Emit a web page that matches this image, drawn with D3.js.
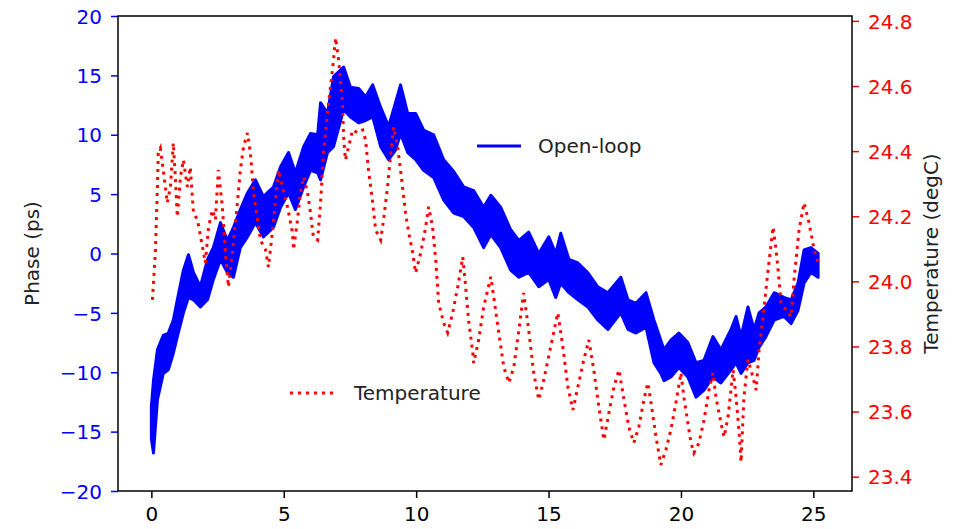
<!DOCTYPE html>
<html>
<head>
<meta charset="utf-8">
<script src="https://cdn.jsdelivr.net/npm/d3@7"></script>
<style>
  body { margin: 0; background: #fff; }
  svg { display: block; font-family: "DejaVu Sans", sans-serif; }
</style>
</head>
<body>
<div id="chart"></div>
<script>

// open-loop phase band (ps): time, upper and lower edge of the noisy trace
var phaseTime = [
  0.00, 0.08, 0.23, 0.45, 0.64, 0.83, 0.98, 1.21, 1.40, 1.59,
  1.85, 2.12, 2.34, 2.61, 2.87, 3.10, 3.36, 3.63, 3.93, 4.23,
  4.61, 4.88, 5.18, 5.44, 5.75, 6.01, 6.28, 6.39, 6.65, 6.88,
  7.26, 7.52, 7.83, 8.09, 8.36, 8.66, 8.96, 9.22, 9.41, 9.68,
  9.98, 10.28, 10.66, 11.04, 11.42, 11.80, 12.17, 12.55, 12.82, 13.19,
  13.57, 13.88, 14.25, 14.63, 15.01, 15.27, 15.46, 15.77, 16.11, 16.48,
  16.86, 17.24, 17.73, 18.00, 18.30, 18.68, 18.98, 19.24, 19.36, 19.62,
  19.92, 20.26, 20.57, 20.87, 21.21, 21.51, 21.89, 22.08, 22.27, 22.53,
  22.76, 22.95, 23.21, 23.52, 23.89, 24.16, 24.42, 24.65, 24.91, 25.18
];
var phaseHi = [
  -12.9, -10.7, -8.1, -6.9, -6.7, -5.6, -3.9, -1.4, -0.1, -1.6,
  -2.8, -0.5, 0.5, 2.6, 1.1, 2.2, 3.7, 5.1, 6.2, 4.8,
  5.6, 7.3, 8.5, 6.8, 9.0, 10.1, 10.0, 12.7, 11.8, 14.9,
  15.7, 14.0, 13.9, 13.2, 14.2, 12.3, 10.7, 12.7, 14.2, 11.8,
  11.8, 10.4, 10.0, 7.9, 6.9, 5.6, 5.3, 3.9, 4.9, 3.9,
  2.0, 1.1, 1.8, 0.0, 1.4, 0.0, 1.7, -0.5, -0.8, -1.6,
  -2.8, -3.3, -2.0, -3.9, -4.2, -3.3, -5.6, -7.3, -8.1, -7.3,
  -6.7, -7.5, -9.2, -9.0, -7.0, -8.1, -6.4, -5.3, -7.0, -4.5,
  -6.4, -5.0, -4.5, -3.3, -3.7, -3.9, -2.5, 0.3, 0.5, 0.0
];
var phaseLo = [
  -15.6, -16.8, -12.3, -10.1, -9.8, -8.4, -7.0, -5.0, -3.7, -3.9,
  -4.5, -3.9, -2.2, -0.5, -1.6, -2.0, 0.5, 1.4, 2.6, 1.4,
  2.2, 3.9, 5.1, 3.7, 5.6, 7.0, 6.8, 6.2, 8.5, 9.0,
  12.1, 11.5, 11.0, 11.2, 11.5, 9.0, 7.9, 8.7, 10.1, 8.5,
  7.9, 7.0, 6.4, 4.5, 3.4, 3.1, 2.2, 0.5, 1.6, 0.5,
  -1.4, -2.0, -1.6, -2.8, -2.2, -3.7, -2.5, -3.3, -3.9, -4.5,
  -5.6, -6.4, -5.0, -6.4, -6.7, -6.2, -9.2, -10.1, -10.7, -10.4,
  -9.6, -10.4, -12.1, -11.5, -10.4, -10.9, -9.8, -9.2, -10.1, -9.2,
  -9.0, -7.9, -7.0, -5.6, -5.3, -5.9, -4.8, -2.5, -1.6, -2.0
];

// temperature trace (degC)
var tempTime = [
  0.04, 0.15, 0.23, 0.26, 0.34, 0.45, 0.60, 0.72, 0.83, 0.91,
  0.98, 1.10, 1.21, 1.36, 1.47, 1.59, 1.74, 1.93, 2.04, 2.16,
  2.31, 2.42, 2.53, 2.68, 2.80, 2.91, 3.06, 3.25, 3.36, 3.48,
  3.63, 3.74, 3.86, 4.01, 4.12, 4.31, 4.42, 4.57, 4.69, 4.80,
  4.95, 5.14, 5.33, 5.37, 5.52, 5.63, 5.75, 5.90, 6.01, 6.12,
  6.28, 6.39, 6.50, 6.69, 6.84, 6.96, 7.07, 7.22, 7.26, 7.33,
  7.45, 7.60, 7.79, 7.98, 8.09, 8.20, 8.36, 8.47, 8.66, 8.77,
  8.92, 9.04, 9.15, 9.30, 9.41, 9.60, 9.72, 9.87, 9.98, 10.17,
  10.36, 10.47, 10.62, 10.74, 10.85, 11.04, 11.19, 11.38, 11.57, 11.76,
  11.87, 11.98, 12.14, 12.17, 12.36, 12.55, 12.82, 12.93, 13.12, 13.31,
  13.50, 13.69, 13.88, 14.06, 14.25, 14.44, 14.63, 14.82, 15.08, 15.35,
  15.54, 15.73, 15.92, 16.11, 16.33, 16.52, 16.71, 16.90, 17.09, 17.28,
  17.47, 17.66, 17.85, 18.03, 18.22, 18.41, 18.60, 18.75, 18.87, 19.06,
  19.24, 19.43, 19.62, 19.81, 20.00, 20.11, 20.26, 20.38, 20.49, 20.68,
  20.87, 21.06, 21.21, 21.32, 21.51, 21.63, 21.78, 21.97, 22.08, 22.19,
  22.27, 22.38, 22.53, 22.72, 22.84, 22.95, 23.10, 23.29, 23.48, 23.59,
  23.67, 23.78, 23.97, 24.16, 24.27, 24.46, 24.65, 24.84, 25.03, 25.18
];
var temperature = [
  23.943, 24.087, 24.290, 24.394, 24.409, 24.342, 24.241, 24.290, 24.425, 24.312,
  24.198, 24.321, 24.373, 24.290, 24.351, 24.210, 24.189, 24.106, 24.057, 24.167,
  24.219, 24.189, 24.342, 24.229, 24.087, 23.983, 24.087, 24.241, 24.342, 24.413,
  24.456, 24.394, 24.272, 24.189, 24.127, 24.097, 24.044, 24.149, 24.250, 24.342,
  24.290, 24.229, 24.149, 24.097, 24.189, 24.272, 24.321, 24.272, 24.210, 24.136,
  24.127, 24.241, 24.394, 24.548, 24.649, 24.748, 24.680, 24.548, 24.444, 24.373,
  24.413, 24.465, 24.456, 24.465, 24.434, 24.342, 24.241, 24.158, 24.127, 24.189,
  24.290, 24.394, 24.474, 24.413, 24.342, 24.210, 24.149, 24.087, 24.026, 24.087,
  24.167, 24.229, 24.167, 24.066, 23.934, 23.872, 23.842, 23.903, 23.983, 24.075,
  23.983, 23.881, 23.780, 23.749, 23.820, 23.921, 24.014, 23.952, 23.842, 23.737,
  23.688, 23.737, 23.851, 23.964, 23.851, 23.719, 23.636, 23.697, 23.799, 23.903,
  23.799, 23.676, 23.605, 23.676, 23.759, 23.820, 23.728, 23.614, 23.513, 23.596,
  23.676, 23.728, 23.636, 23.553, 23.504, 23.553, 23.636, 23.688, 23.627, 23.522,
  23.436, 23.482, 23.544, 23.627, 23.719, 23.645, 23.565, 23.504, 23.473, 23.504,
  23.574, 23.666, 23.719, 23.645, 23.565, 23.522, 23.583, 23.728, 23.645, 23.544,
  23.445, 23.645, 23.759, 23.706, 23.666, 23.789, 23.891, 24.035, 24.167, 24.097,
  24.035, 23.934, 23.912, 23.891, 24.004, 24.158, 24.241, 24.179, 24.097, 24.057
];

// tick labels
var xTicks = [0, 5, 10, 15, 20, 25];
var phaseTicks = [-20, -15, -10, -5, 0, 5, 10, 15, 20];
var tempTicks = [23.4, 23.6, 23.8, 24.0, 24.2, 24.4, 24.6, 24.8];

var attrs = {
  svgWidth: 973,
  svgHeight: 529,
  left: 118,
  right: 852,
  top: 16,
  bottom: 491,
  fontSize: 20
};

var svg = d3.select('#chart').append('svg')
  .attr('width', attrs.svgWidth)
  .attr('height', attrs.svgHeight);

svg.append('rect').attr('width', attrs.svgWidth).attr('height', attrs.svgHeight).attr('fill', '#fff');

// scales (matplotlib style 5% margin on x)
var x = d3.scaleLinear().domain([-1.26, 26.46]).range([attrs.left, attrs.right]);
var yPhase = d3.scaleLinear().domain([-20, 20]).range([attrs.bottom, attrs.top]);
var yTemp = d3.scaleLinear().domain([23.356, 24.815]).range([attrs.bottom, attrs.top]);

var minus = function (d) { return d < 0 ? '\u2212' + Math.abs(d) : '' + d; };

svg.append('clipPath').attr('id', 'plot-clip')
  .append('rect')
  .attr('x', attrs.left).attr('y', attrs.top)
  .attr('width', attrs.right - attrs.left).attr('height', attrs.bottom - attrs.top);

var plot = svg.append('g').attr('clip-path', 'url(#plot-clip)');

// blue open-loop band
var band = phaseTime.map(function (t, i) { return { t: t, hi: phaseHi[i], lo: phaseLo[i] }; });
plot.append('path')
  .datum(band)
  .attr('fill', '#0000ff')
  .attr('stroke', '#0000ff')
  .attr('stroke-width', 3)
  .attr('stroke-linejoin', 'round')
  .attr('d', d3.area()
    .x(function (d) { return x(d.t); })
    .y0(function (d) { return yPhase(d.lo); })
    .y1(function (d) { return yPhase(d.hi); }));

// red dotted temperature (twin axis, drawn on top)
var temp = tempTime.map(function (t, i) { return { t: t, v: temperature[i] }; });
plot.append('path')
  .datum(temp)
  .attr('fill', 'none')
  .attr('stroke', '#ff0000')
  .attr('stroke-width', 3)
  .attr('stroke-dasharray', '3,5')
  .attr('d', d3.line()
    .x(function (d) { return x(d.t); })
    .y(function (d) { return yTemp(d.v); }));

// axes
var xAxis = svg.append('g')
  .attr('transform', 'translate(0,' + attrs.bottom + ')')
  .call(d3.axisBottom(x).tickValues(xTicks).tickSize(7).tickPadding(8).tickFormat(minus));

var leftAxis = svg.append('g')
  .attr('transform', 'translate(' + attrs.left + ',0)')
  .call(d3.axisLeft(yPhase).tickValues(phaseTicks).tickSize(7).tickPadding(9).tickFormat(minus));

var rightAxis = svg.append('g')
  .attr('transform', 'translate(' + attrs.right + ',0)')
  .call(d3.axisRight(yTemp).tickValues(tempTicks).tickSize(7).tickPadding(9).tickFormat(d3.format('.1f')));

[xAxis, leftAxis, rightAxis].forEach(function (a) {
  a.select('.domain').remove();
  a.selectAll('text').attr('font-size', attrs.fontSize).attr('font-family', '"DejaVu Sans", sans-serif');
  a.selectAll('line').attr('stroke-width', 1.5);
});
xAxis.selectAll('line').attr('stroke', '#000');
xAxis.selectAll('text').attr('fill', '#000').attr('dy', '0.76em');
leftAxis.selectAll('line').attr('stroke', '#0000ff');
leftAxis.selectAll('text').attr('fill', '#0000ff').attr('dy', '0.36em');
rightAxis.selectAll('line').attr('stroke', '#ff0000');
rightAxis.selectAll('text').attr('fill', '#ff0000').attr('dy', '0.36em');

// spines
svg.append('rect')
  .attr('x', attrs.left).attr('y', attrs.top)
  .attr('width', attrs.right - attrs.left).attr('height', attrs.bottom - attrs.top)
  .attr('fill', 'none').attr('stroke', '#000').attr('stroke-width', 1.5);

// axis labels
svg.append('text')
  .attr('transform', 'translate(39,' + (attrs.top + attrs.bottom) / 2 + ') rotate(-90)')
  .attr('text-anchor', 'middle')
  .attr('font-size', attrs.fontSize)
  .attr('fill', '#222')
  .text('Phase (ps)');

svg.append('text')
  .attr('transform', 'translate(938,' + (attrs.top + attrs.bottom) / 2 + ') rotate(-90)')
  .attr('text-anchor', 'middle')
  .attr('font-size', attrs.fontSize)
  .attr('fill', '#222')
  .text('Temperature (degC)');

// legends (one per axes, like the original)
var legend1 = svg.append('g');
legend1.append('line')
  .attr('x1', 477).attr('x2', 521).attr('y1', 146).attr('y2', 146)
  .attr('stroke', '#0000ff').attr('stroke-width', 3);
legend1.append('text')
  .attr('x', 538).attr('y', 146).attr('dy', '0.36em')
  .attr('font-size', attrs.fontSize).attr('fill', '#222')
  .text('Open-loop');

var legend2 = svg.append('g');
legend2.append('line')
  .attr('x1', 290).attr('x2', 333).attr('y1', 393).attr('y2', 393)
  .attr('stroke', '#ff0000').attr('stroke-width', 3).attr('stroke-dasharray', '3,5');
legend2.append('text')
  .attr('x', 354).attr('y', 393).attr('dy', '0.36em')
  .attr('font-size', attrs.fontSize).attr('fill', '#222')
  .text('Temperature');

</script>
</body>
</html>
